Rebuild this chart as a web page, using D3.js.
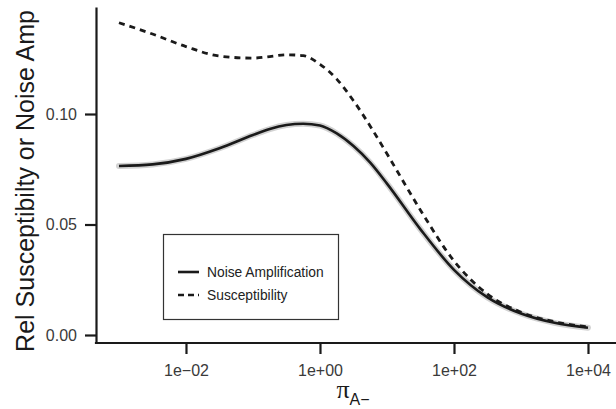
<!DOCTYPE html>
<html>
<head>
<meta charset="utf-8">
<script src="https://cdn.jsdelivr.net/npm/d3@7"></script>
<style>
  html, body { margin: 0; padding: 0; background: #fff; }
  svg { display: block; }
</style>
</head>
<body>
<svg id="chart" width="616" height="409"></svg>
<script>
// pi_A- grid (log-spaced) and the two response curves
const piValues = [1e-3, 3.162e-3, 1e-2, 3.162e-2, 1e-1, 1.778e-1, 3.162e-1, 5.623e-1,
                  1, 1.778, 3.162, 5.623, 10, 31.62, 100, 316.2, 1000, 3162, 10000];
const noiseAmplification = [0.0765, 0.0772, 0.0797, 0.0845, 0.0905, 0.0932, 0.0950, 0.0956,
                            0.0948, 0.0912, 0.0855, 0.0780, 0.0685, 0.0478, 0.0295, 0.0170,
                            0.0097, 0.0055, 0.0033];
const susceptibility = [0.1413, 0.1362, 0.1305, 0.1262, 0.1253, 0.1260, 0.1268, 0.1264,
                        0.1225, 0.1158, 0.1060, 0.0945, 0.0820, 0.0565, 0.0335, 0.0185,
                        0.0103, 0.0060, 0.0036];
const xTicks = [1e-2, 1, 1e2, 1e4];
const yTicks = [0, 0.05, 0.10];
const seriesNames = ["Noise Amplification", "Susceptibility"];

const svg = d3.select("#chart");
const sans = "'Liberation Sans', Arial, Helvetica, sans-serif";

const x = d3.scaleLog()
  .domain([Math.pow(10, -3.343), Math.pow(10, 4.418)])
  .range([96, 616]);
const y = d3.scaleLinear()
  .domain([-0.00362, 0.14842])
  .range([343, 7]);

const fmtX = v => {
  const e = Math.round(Math.log10(v));
  return "1e" + (e < 0 ? "\u2212" : "+") + String(Math.abs(e)).padStart(2, "0");
};

// axes
const xAxis = svg.append("g")
  .attr("transform", `translate(0,${y.range()[0]})`)
  .call(d3.axisBottom(x).tickValues(xTicks).tickFormat(fmtX)
        .tickSizeInner(11).tickSizeOuter(0).tickPadding(11));
const yAxis = svg.append("g")
  .attr("transform", `translate(${x.range()[0]},0)`)
  .call(d3.axisLeft(y).tickValues(yTicks).tickFormat(d3.format(".2f"))
        .tickSizeInner(11).tickSizeOuter(0).tickPadding(8));

[xAxis, yAxis].forEach(g => {
  g.selectAll(".domain").attr("stroke", "#1a1a1a").attr("stroke-width", 2.2);
  g.selectAll(".tick line").attr("stroke", "#1a1a1a").attr("stroke-width", 2.2);
  g.selectAll(".tick text").attr("fill", "#3a3a3a")
    .style("font-family", sans).style("font-size", "16px");
});
xAxis.select(".domain").attr("d", `M${x.range()[0] - 1.1},0H${x.range()[1]}`);

// curves
const pts = vals => piValues.map((p, i) => [p, vals[i]]);
const line = d3.line()
  .x(d => x(d[0]))
  .y(d => y(d[1]))
  .curve(d3.curveMonotoneX);

// soft grey band behind the noise amplification line
svg.append("path")
  .attr("d", line(pts(noiseAmplification)))
  .attr("fill", "none")
  .attr("stroke", "#d2d2d2")
  .attr("stroke-width", 6)
  .attr("stroke-linecap", "round");
svg.append("path")
  .attr("d", line(pts(noiseAmplification)))
  .attr("fill", "none")
  .attr("stroke", "#1a1a1a")
  .attr("stroke-width", 2.6);
svg.append("path")
  .attr("d", line(pts(susceptibility)))
  .attr("fill", "none")
  .attr("stroke", "#1a1a1a")
  .attr("stroke-width", 2.8)
  .attr("stroke-dasharray", "6,5");

// legend
const legend = svg.append("g");
legend.append("rect")
  .attr("x", 163.5).attr("y", 234.5).attr("width", 175).attr("height", 85)
  .attr("fill", "#fff").attr("stroke", "#333").attr("stroke-width", 1.2);
seriesNames.forEach((name, i) => {
  const ly = 272 + i * 23;
  legend.append("line")
    .attr("x1", 178).attr("x2", 199).attr("y1", ly).attr("y2", ly)
    .attr("stroke", "#1a1a1a").attr("stroke-width", 2.6)
    .attr("stroke-dasharray", i === 1 ? "6,4" : null);
  legend.append("text")
    .attr("x", 207).attr("y", ly + 4.8)
    .attr("fill", "#222")
    .style("font-family", sans).style("font-size", "13.8px")
    .text(name);
});

// axis titles
svg.append("text")
  .attr("transform", "translate(34,181) rotate(-90)")
  .attr("text-anchor", "middle")
  .attr("fill", "#1a1a1a")
  .style("font-family", sans).style("font-size", "25px")
  .text("Rel Susceptibilty or Noise Amp");

const xt = svg.append("text")
  .attr("x", 353).attr("y", 398)
  .attr("text-anchor", "middle")
  .attr("fill", "#1a1a1a");
xt.append("tspan")
  .style("font-family", "'Liberation Serif', 'DejaVu Serif', serif")
  .style("font-size", "26px")
  .text("\u03c0");
xt.append("tspan")
  .attr("dy", 7)
  .style("font-family", sans).style("font-size", "16px")
  .text("A\u2212");
</script>
</body>
</html>
